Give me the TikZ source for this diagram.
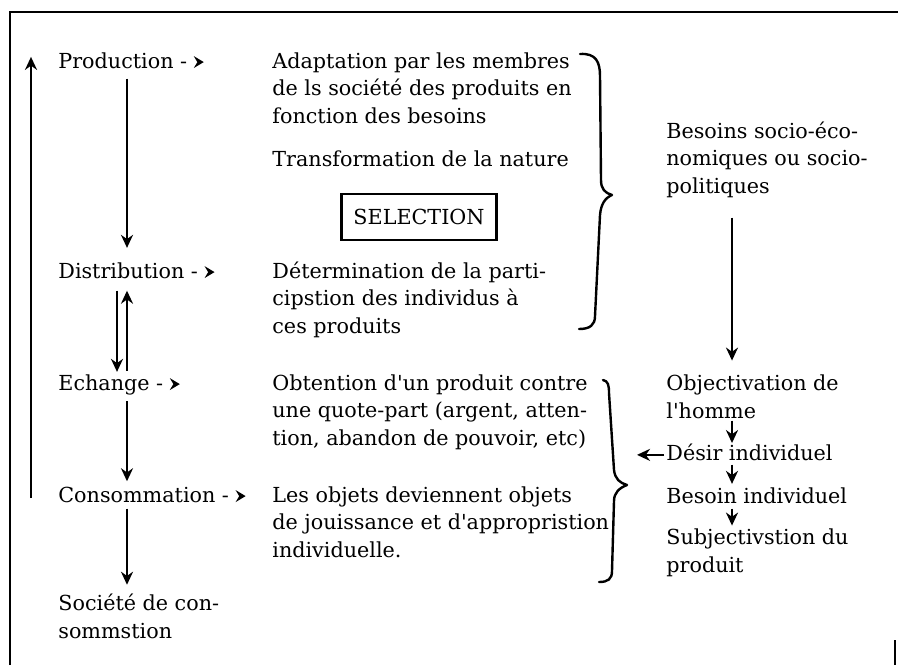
\documentclass[tikz,border=0pt]{standalone}
\usepackage{fontspec}
\setmainfont{DejaVu Serif}[Ligatures=TeXOff]
\usetikzlibrary{arrows.meta}
\newcommand{\smalltip}{\tikz[baseline=-0.55ex]\fill (0,0) -- (-5pt,3pt) -- (-3.2pt,0) -- (-5pt,-3pt) -- cycle;}
\begin{document}
\begin{tikzpicture}[x=0.5pt,y=-0.5pt,
  txt/.style={inner sep=0pt,anchor=base west,align=left,
    font=\fontsize{10.35}{13.65}\selectfont},
  rule/.style={line width=1.3pt},
  flow/.style={line width=1.2pt,-{Stealth[length=6.5pt,width=6pt]}},
  brace/.style={line width=1.2pt,line cap=round,line join=round},
  tag/.style={draw,line width=1.2pt,inner xsep=6pt,inner ysep=7.5pt,
    font=\fontsize{10.35}{12}\selectfont}]
\useasboundingbox (0,0) rectangle (898,665);

% frame
\draw[rule] (10,665) -- (10,12) -- (898,12);
\draw[line width=0.8pt] (895,640) -- (895,665);

% left column: the stages (multi-line nodes sit on their last baseline)
\node[txt] (prod) at (58,68) {Production - \smalltip};
\node[txt] (dist) at (58,278) {Distribution - \smalltip};
\node[txt] (ech)  at (58,390) {Echange - \smalltip};
\node[txt] (cons) at (58,502) {Consommation - \smalltip};
\node[txt] (soc)  at (58,638) {Société de con-\\sommstion};

% middle column: descriptions
\node[txt] (adapt) at (272,123) {Adaptation par les membres\\de ls société des produits en\\fonction des besoins};
\node[txt] (trans) at (272,166) {Transformation de la nature};
\node[tag] (sel) at (419,217) {SELECTION};
\node[txt] (det)  at (272,333) {Détermination de la parti-\\cipstion des individus à\\ces produits};
\node[txt] (obt)  at (272,445) {Obtention d'un produit contre\\une quote-part (argent, atten-\\tion, abandon de pouvoir, etc)};
\node[txt] (obj)  at (272,557) {Les objets deviennent objets\\de jouissance et d'appropristion\\individuelle.};

% right column
\node[txt] (bes)  at (666,193) {Besoins socio-éco-\\nomiques ou socio-\\politiques};
\node[txt] (objh) at (666,418) {Objectivation de\\l'homme};
\node[txt] (des)  at (666,460) {Désir individuel};
\node[txt] (bind) at (666,503) {Besoin individuel};
\node[txt] (subj) at (666,572) {Subjectivstion du\\produit};

% axes of the vertical connectors
\coordinate (ax) at (127,0);
\coordinate (bx) at (117,0);
\coordinate (lx) at (31,0);
\coordinate (rx) at (732,0);

% left chain
\draw[flow] ([yshift=-5pt]prod.south -| ax) -- ([yshift=7pt]dist.north -| ax);
\draw[flow] ([yshift=-6pt]dist.south -| bx) -- ([yshift=1pt]ech.north -| bx);
\draw[flow] ([yshift=1.5pt]ech.north -| ax) -- ([yshift=-6pt]dist.south -| ax);
\draw[flow] ([yshift=-3pt]ech.south -| ax) -- ([yshift=2.5pt]cons.north -| ax);
\draw[flow] ([yshift=-3pt]cons.south -| ax) -- ([yshift=4.5pt]soc.north -| ax);
% feedback from consumption back to production
\draw[flow] ([yshift=2pt]lx |- cons.base) -- ([yshift=-2.5pt]lx |- prod.north);

% right chain
\draw[flow] ([yshift=-10pt]bes.south -| rx) -- ([yshift=7pt]objh.north -| rx);
\draw[flow] ([yshift=-1pt]objh.south -| rx) -- ([yshift=0pt]des.north -| rx);
\draw[flow] ([yshift=-2pt]des.south -| rx) -- ([yshift=1.5pt]bind.north -| rx);
\draw[flow] ([yshift=-2.5pt]bind.south -| rx) -- ([yshift=1.5pt]subj.north -| rx);
\draw[flow] ([xshift=-1pt,yshift=-1.5pt]des.west) -- ++(-27,0) coordinate (dtip);

% braces
\draw[brace] (580,54) .. controls (596,53) and (600,62) .. (600,76)
  -- (601,180) .. controls (601,189) and (605,193) .. (612,195)
  .. controls (605,198) and (601,204) .. (600,215)
  -- (595,316) .. controls (595,325) and (590,329) .. (579,329);
\draw[brace] (603,380) .. controls (608,381) and (609,385) .. (609,393)
  -- (614,470) .. controls (615,479) and (620,483) .. (627,485)
  .. controls (619,488) and (614,493) .. (614,501)
  -- (612,571) .. controls (612,579) and (608,582) .. (599,582);
\end{tikzpicture}
\end{document}
